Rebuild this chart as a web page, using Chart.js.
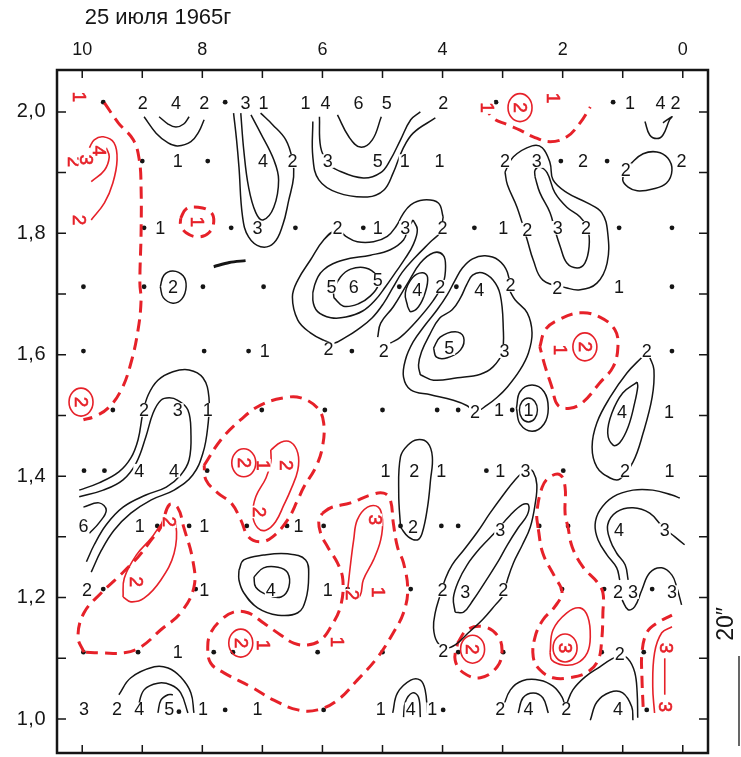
<!DOCTYPE html>
<html>
<head>
<meta charset="utf-8">
<script src="https://cdn.jsdelivr.net/npm/chart.js@4.4.1/dist/chart.umd.min.js"></script>
<style>
  html, body { margin: 0; padding: 0; background: #fff; }
  canvas { display: block; }
</style>
</head>
<body>
<canvas id="map" width="741" height="757"></canvas>
<script>
// axes
const xTicks = [10, 9, 8, 7, 6, 5, 4, 3, 2, 1, 0];
const xTickLabels = ['10', '', '8', '', '6', '', '4', '', '2', '', '0'];
const yTicks = [2.0, 1.9, 1.8, 1.7, 1.6, 1.5, 1.4, 1.3, 1.2, 1.1, 1.0];
const yTickLabels = ['2,0', '', '1,8', '', '1,6', '', '1,4', '', '1,2', '', '1,0'];
const titleText = '25 июля 1965г';
const scaleText = '20\u2033';

// observation points
const dots = [
  [9.65, 2.016], [7.62, 2.016], [3.11, 2.016], [1.16, 2.016],
  [9.00, 1.919], [7.91, 1.919], [2.03, 1.919], [1.26, 1.919],
  [8.97, 1.809], [7.52, 1.809], [6.45, 1.809], [5.32, 1.809], [3.47, 1.809], [1.06, 1.809], [0.18, 1.809],
  [9.98, 1.712], [8.97, 1.712], [7.99, 1.712], [6.98, 1.712], [4.72, 1.712], [3.77, 1.712], [0.18, 1.712],
  [9.98, 1.606], [7.97, 1.606], [7.23, 1.606], [5.51, 1.606], [0.18, 1.606],
  [9.49, 1.509], [7.01, 1.509], [5.96, 1.509], [5.00, 1.509], [4.09, 1.509], [3.74, 1.509], [2.84, 1.509],
  [9.97, 1.409], [9.63, 1.409], [7.92, 1.409], [3.27, 1.409], [1.99, 1.409],
  [8.75, 1.318], [8.22, 1.318], [7.26, 1.318], [6.59, 1.318], [5.98, 1.318], [4.70, 1.318], [4.02, 1.318], [3.74, 1.318], [2.39, 1.318], [1.91, 1.318],
  [9.65, 1.214], [8.11, 1.214], [5.58, 1.214], [4.53, 1.214], [2.01, 1.214], [1.31, 1.214], [0.51, 1.214],
  [9.98, 1.110], [9.07, 1.110], [7.81, 1.110], [7.49, 1.110], [6.08, 1.110], [5.00, 1.110], [3.74, 1.110], [2.99, 1.110], [1.35, 1.110], [0.65, 1.110],
  [7.62, 1.015], [5.98, 1.015], [3.99, 1.015], [0.60, 1.015], [8.39, 1.012]
];

// values written on the map (black)
const inkLabels = [
  ['2', 8.99, 2.015], ['4', 8.44, 2.015], ['2', 7.97, 2.015], ['3', 7.28, 2.015], ['1', 6.98, 2.015],
  ['1', 6.28, 2.015], ['4', 5.95, 2.015], ['6', 5.40, 2.015], ['5', 4.93, 2.015], ['2', 3.99, 2.015],
  ['1', 0.88, 2.015], ['4', 0.37, 2.015], ['2', 0.12, 2.015],
  ['1', 8.41, 1.919], ['4', 6.99, 1.919], ['2', 6.50, 1.919], ['3', 5.91, 1.919], ['5', 5.08, 1.919],
  ['1', 4.63, 1.919], ['1', 4.05, 1.919], ['2', 2.96, 1.919], ['3', 2.43, 1.919], ['2', 1.66, 1.919],
  ['2', 0.95, 1.904], ['2', 0.02, 1.919],
  ['1', 8.70, 1.809], ['3', 7.08, 1.809], ['2', 5.75, 1.809], ['1', 5.08, 1.809], ['3', 4.62, 1.809],
  ['2', 4.00, 1.809], ['1', 2.99, 1.809], ['2', 2.59, 1.806], ['3', 2.08, 1.809], ['2', 1.61, 1.809],
  ['2', 8.49, 1.712], ['5', 5.85, 1.712], ['6', 5.48, 1.712], ['5', 5.08, 1.723], ['4', 4.42, 1.707],
  ['2', 4.04, 1.712], ['4', 3.39, 1.707], ['2', 2.87, 1.715], ['2', 2.09, 1.710], ['1', 1.06, 1.712],
  ['1', 6.96, 1.606], ['2', 5.90, 1.610], ['2', 4.98, 1.606], ['5', 3.89, 1.611], ['3', 2.97, 1.606], ['2', 0.60, 1.606],
  ['2', 8.97, 1.509], ['3', 8.41, 1.509], ['1', 7.91, 1.509], ['2', 3.46, 1.506], ['1', 3.06, 1.509],
  ['1', 2.57, 1.509], ['4', 1.01, 1.506], ['1', 0.23, 1.506],
  ['4', 9.05, 1.409], ['4', 8.47, 1.409], ['1', 4.95, 1.409], ['2', 4.47, 1.409], ['1', 4.02, 1.409],
  ['1', 3.04, 1.409], ['3', 2.62, 1.409], ['2', 0.96, 1.409], ['1', 0.22, 1.409],
  ['6', 9.98, 1.318], ['1', 9.04, 1.318], ['1', 7.97, 1.318], ['1', 6.40, 1.318], ['2', 4.49, 1.316],
  ['3', 3.04, 1.311], ['4', 1.06, 1.311], ['3', 0.30, 1.311],
  ['2', 9.92, 1.212], ['1', 7.97, 1.212], ['4', 6.86, 1.212], ['1', 5.91, 1.212], ['2', 4.00, 1.212],
  ['3', 3.62, 1.209], ['2', 2.99, 1.212], ['2', 1.08, 1.209], ['3', 0.83, 1.209], ['3', 0.18, 1.209],
  ['1', 8.41, 1.110], ['2', 3.99, 1.112], ['2', 1.05, 1.107],
  ['3', 9.97, 1.016], ['2', 9.42, 1.016], ['4', 9.05, 1.016], ['5', 8.55, 1.016], ['1', 7.99, 1.016],
  ['1', 7.08, 1.016], ['1', 5.03, 1.016], ['4', 4.53, 1.016], ['1', 4.17, 1.016], ['2', 3.04, 1.016],
  ['4', 2.57, 1.016], ['2', 1.94, 1.016], ['4', 1.08, 1.016]
];
const inkRings = [[2.57, 1.509]];

// isoline labels (red)
const redLabels = [
  ['1', 10.05, 2.025], ['2', 10.13, 1.918], ['3', 9.94, 1.921], ['4', 9.72, 1.936], ['2', 10.05, 1.822],
  ['1', 8.09, 1.819], ['1', 3.26, 2.007], ['2', 2.71, 2.007], ['1', 2.16, 2.023],
  ['2', 10.02, 1.522], ['1', 2.04, 1.608], ['2', 1.63, 1.613],
  ['2', 7.31, 1.422], ['1', 6.98, 1.418], ['2', 6.61, 1.418], ['2', 7.06, 1.341],
  ['2', 8.55, 1.325], ['2', 9.10, 1.226],
  ['3', 5.12, 1.328], ['2', 5.50, 1.204], ['1', 5.07, 1.209],
  ['2', 7.36, 1.125], ['1', 6.99, 1.122], ['1', 5.75, 1.127],
  ['2', 3.50, 1.115], ['3', 1.96, 1.117], ['3', 0.27, 1.117], ['3', 0.30, 1.020]
];
const redRings = [[2.71, 2.007], [1.63, 1.613], [7.31, 1.422], [7.36, 1.125], [3.50, 1.115], [1.96, 1.117], [10.02, 1.522]];

// black isolines
const b01 = [[8.97,1.992],[8.77,1.965],[8.57,1.949],[8.41,1.944],[8.19,1.951],[8.06,1.967],[7.97,1.987]];
const b02 = [[8.72,1.992],[8.57,1.980],[8.44,1.975],[8.31,1.980],[8.22,1.992]];
const b03 = [[7.48,1.998],[7.43,1.954],[7.39,1.909],[7.33,1.827],[7.23,1.794],[7.03,1.778],[6.81,1.784],[6.66,1.814],[6.56,1.855],[6.48,1.893],[6.50,1.921],[6.61,1.954],[6.83,1.979],[7.03,1.998]];
const b04 = [[7.36,1.998],[7.31,1.937],[7.23,1.876],[7.11,1.834],[6.99,1.822],[6.81,1.843],[6.73,1.888],[6.81,1.921],[7.03,1.965],[7.19,1.995]];
const b05 = [[7.81,1.745],[7.55,1.752],[7.28,1.755]];
const b06 = [[8.70,1.712],[8.64,1.731],[8.49,1.738],[8.32,1.730],[8.27,1.712],[8.34,1.692],[8.49,1.685],[8.65,1.694],[8.70,1.712]];
const b07 = [[5.75,1.995],[5.56,1.959],[5.37,1.942],[5.17,1.954],[5.02,1.992]];
const b08 = [[6.05,1.992],[6.03,1.942],[5.91,1.916],[5.75,1.904],[5.32,1.891],[5.03,1.900],[4.87,1.921],[4.70,1.954],[4.53,1.987],[4.37,2.000]];
const b09 = [[6.16,1.984],[6.16,1.926],[6.06,1.888],[5.75,1.867],[5.25,1.860],[4.98,1.871],[4.82,1.900],[4.67,1.937],[4.49,1.965],[4.12,1.990]];
const b10 = [[2.96,1.901],[2.82,1.926],[2.51,1.944],[2.34,1.941],[2.21,1.916],[2.16,1.888],[1.93,1.867],[1.59,1.850],[1.35,1.834],[1.25,1.801],[1.26,1.751],[1.43,1.718],[1.71,1.707],[1.93,1.710],[2.33,1.723],[2.49,1.756],[2.59,1.789],[2.76,1.843],[2.92,1.880],[2.96,1.901]];
const b11 = [[2.46,1.893],[2.38,1.867],[2.21,1.834],[2.13,1.806],[2.04,1.778],[1.93,1.751],[1.76,1.743],[1.63,1.751],[1.56,1.778],[1.58,1.806],[1.71,1.827],[1.93,1.843],[2.13,1.867],[2.26,1.900],[2.38,1.909],[2.46,1.904],[2.46,1.893]];
const b12 = [[0.63,1.984],[0.55,1.962],[0.43,1.956],[0.33,1.962],[0.22,1.987],[0.18,1.992],[0.33,1.982]];
const b13 = [[0.95,1.904],[0.85,1.916],[0.66,1.931],[0.43,1.934],[0.25,1.924],[0.18,1.904],[0.27,1.883],[0.50,1.873],[0.76,1.870],[0.91,1.876],[1.00,1.888],[0.95,1.904]];
const b14 = [[3.99,1.827],[4.07,1.850],[4.32,1.855],[4.53,1.847],[4.67,1.830],[4.77,1.812],[4.92,1.795],[5.15,1.786],[5.42,1.786],[5.61,1.795],[5.75,1.806],[5.98,1.789],[6.20,1.756],[6.41,1.723],[6.50,1.695],[6.41,1.657],[6.20,1.636],[5.98,1.624],[5.81,1.619],[5.61,1.629],[5.42,1.641],[5.17,1.661],[4.98,1.685],[4.83,1.710],[4.67,1.736],[4.45,1.761],[4.20,1.786],[4.04,1.802],[3.99,1.827]];
const b15 = [[4.49,1.822],[4.42,1.806],[4.49,1.781],[4.62,1.759],[4.78,1.736],[4.95,1.712],[5.12,1.690],[5.33,1.672],[5.61,1.662],[5.86,1.661],[6.08,1.671],[6.16,1.690],[6.13,1.715],[5.98,1.740],[5.65,1.756],[5.20,1.764],[4.87,1.773],[4.65,1.789],[4.57,1.809],[4.49,1.822]];
const b16 = [[5.81,1.694],[5.65,1.680],[5.40,1.684],[5.20,1.697],[5.07,1.715],[5.10,1.731],[5.28,1.743],[5.53,1.741],[5.70,1.728],[5.81,1.707],[5.81,1.694]];
const b17 = [[5.08,1.629],[5.03,1.652],[4.82,1.679],[4.58,1.718],[4.37,1.751],[4.15,1.768],[3.99,1.764],[3.95,1.745],[3.99,1.718],[4.15,1.690],[4.42,1.657],[4.70,1.629],[4.87,1.619]];
const b18 = [[4.58,1.679],[4.62,1.702],[4.50,1.727],[4.34,1.735],[4.25,1.728],[4.29,1.702],[4.40,1.679],[4.53,1.671],[4.58,1.679]];
const b19 = [[4.15,1.611],[4.04,1.629],[3.79,1.638],[3.65,1.629],[3.70,1.608],[3.92,1.595],[4.10,1.596],[4.15,1.611]];
const b20 = [[4.37,1.567],[4.15,1.558],[3.75,1.562],[3.37,1.568],[3.16,1.580],[3.01,1.603],[2.99,1.646],[3.04,1.699],[3.16,1.723],[3.34,1.735],[3.50,1.731],[3.60,1.715],[3.70,1.694],[3.84,1.674],[4.05,1.660],[4.22,1.632],[4.35,1.605],[4.40,1.583],[4.37,1.567]];
const b21 = [[2.87,1.703],[2.92,1.736],[3.07,1.756],[3.29,1.763],[3.50,1.758],[3.67,1.743],[3.79,1.723],[3.92,1.699],[4.09,1.674],[4.29,1.649],[4.49,1.621],[4.62,1.591],[4.65,1.563],[4.53,1.542],[4.20,1.534],[3.82,1.525],[3.59,1.516],[3.46,1.506],[3.26,1.517],[3.09,1.530],[2.92,1.547],[2.71,1.575],[2.57,1.603],[2.51,1.636],[2.59,1.669],[2.79,1.690],[2.87,1.703]];
const b22 = [[2.77,1.512],[2.71,1.539],[2.51,1.550],[2.31,1.539],[2.24,1.512],[2.31,1.486],[2.51,1.474],[2.71,1.486],[2.77,1.512]];
const b23 = [[0.68,1.596],[0.93,1.570],[1.21,1.530],[1.43,1.488],[1.51,1.448],[1.43,1.415],[1.21,1.397],[1.05,1.395],[0.83,1.423],[0.66,1.471],[0.51,1.530],[0.48,1.575],[0.55,1.596]];
const b24 = [[0.76,1.555],[1.00,1.537],[1.18,1.504],[1.25,1.471],[1.16,1.451],[1.05,1.455],[0.91,1.481],[0.80,1.521],[0.75,1.547],[0.76,1.555]];
const b25 = [[10.05,1.377],[9.72,1.389],[9.39,1.407],[9.19,1.430],[9.07,1.460],[8.99,1.504],[8.90,1.534],[8.74,1.558],[8.49,1.572],[8.22,1.575],[7.99,1.562],[7.89,1.530],[7.91,1.481],[7.99,1.438],[8.16,1.402],[8.47,1.377],[8.85,1.361],[9.19,1.339],[9.47,1.311],[9.68,1.278],[9.85,1.242]];
const b26 = [[10.05,1.366],[9.65,1.377],[9.32,1.394],[9.10,1.422],[8.94,1.465],[8.82,1.504],[8.69,1.525],[8.55,1.529],[8.41,1.525],[8.24,1.509],[8.19,1.471],[8.22,1.427],[8.36,1.402],[8.60,1.382],[8.94,1.369],[9.32,1.349],[9.60,1.320],[9.80,1.287],[9.93,1.259]];
const b27 = [[9.98,1.349],[9.72,1.356],[9.60,1.344],[9.72,1.323],[9.88,1.306]];
const b28 = [[7.39,1.245],[7.31,1.262],[6.98,1.270],[6.58,1.272],[6.28,1.262],[6.23,1.234],[6.28,1.196],[6.41,1.175],[6.74,1.171],[7.08,1.183],[7.31,1.208],[7.39,1.229],[7.39,1.245]];
const b29 = [[7.14,1.234],[6.98,1.249],[6.74,1.250],[6.58,1.241],[6.56,1.217],[6.69,1.201],[6.91,1.204],[7.11,1.217],[7.14,1.234]];
const b30 = [[4.70,1.316],[4.73,1.372],[4.70,1.432],[4.58,1.451],[4.42,1.460],[4.25,1.455],[4.17,1.432],[4.20,1.394],[4.25,1.349],[4.34,1.306],[4.42,1.295],[4.57,1.300],[4.70,1.316]];
const b31 = [[2.59,1.414],[2.79,1.394],[2.99,1.369],[3.21,1.339],[3.42,1.308],[3.65,1.278],[3.84,1.254],[3.95,1.232],[4.04,1.204],[4.12,1.176],[4.15,1.150],[4.09,1.127],[3.95,1.117],[3.79,1.122],[3.57,1.142],[3.34,1.163],[3.12,1.188],[2.99,1.204],[2.92,1.229],[2.82,1.257],[2.67,1.287],[2.54,1.316],[2.46,1.353],[2.43,1.386],[2.49,1.407],[2.59,1.414]];
const b32 = [[3.79,1.176],[3.82,1.199],[3.74,1.226],[3.59,1.254],[3.37,1.282],[3.12,1.308],[2.87,1.336],[2.67,1.353],[2.57,1.353],[2.59,1.336],[2.74,1.315],[2.92,1.287],[3.09,1.257],[3.29,1.226],[3.49,1.196],[3.65,1.176],[3.79,1.176]];
const b33 = [[9.39,1.040],[9.19,1.068],[8.80,1.086],[8.57,1.084],[8.36,1.069],[8.19,1.043],[8.14,1.010]];
const b34 = [[9.07,1.020],[8.97,1.048],[8.74,1.059],[8.52,1.056],[8.36,1.043],[8.24,1.010]];
const b35 = [[8.74,1.010],[8.69,1.031],[8.57,1.040],[8.49,1.040]];
const b36 = [[4.83,1.010],[4.75,1.043],[4.53,1.064],[4.37,1.064],[4.29,1.048],[4.25,1.010]];
const b37 = [[4.65,1.003],[4.62,1.028],[4.50,1.043],[4.40,1.036],[4.37,1.003]];
const b38 = [[2.99,1.020],[2.87,1.048],[2.67,1.063],[2.38,1.064],[2.16,1.054],[2.01,1.036],[1.96,1.020]];
const b39 = [[2.74,1.010],[2.66,1.035],[2.49,1.043],[2.33,1.035],[2.24,1.010]];
const b40 = [[1.94,1.023],[1.83,1.048],[1.63,1.069],[1.38,1.086],[1.18,1.099],[1.05,1.104],[0.91,1.099],[0.80,1.077],[0.76,1.044],[0.75,1.002]];
const b41 = [[1.54,0.998],[1.43,1.028],[1.21,1.044],[1.00,1.043],[0.85,1.020],[0.83,0.998]];
const b42 = [[0.05,1.364],[0.18,1.369],[0.50,1.377],[0.83,1.377],[1.16,1.366],[1.38,1.344],[1.46,1.320],[1.41,1.295],[1.26,1.270],[1.10,1.249],[1.05,1.229]];
const b43 = [[-0.03,1.287],[0.13,1.300],[0.33,1.316],[0.55,1.339],[0.83,1.348],[1.10,1.341],[1.25,1.320],[1.21,1.295],[1.10,1.273],[0.96,1.254],[0.91,1.229]];
const b44 = [[1.01,1.196],[0.91,1.180],[0.80,1.185],[0.68,1.213],[0.55,1.241],[0.35,1.249],[0.18,1.237],[0.10,1.217],[0.02,1.188]];

// red isolines, solid and dashed
const r01 = [[9.63,2.015],[9.40,1.982],[9.15,1.954],[9.05,1.921],[9.02,1.876],[9.02,1.801],[9.04,1.718],[9.02,1.690],[9.07,1.641],[9.19,1.586],[9.35,1.542],[9.57,1.512],[9.80,1.498],[9.98,1.493]];
const r02 = [[8.36,1.825],[8.27,1.840],[8.07,1.843],[7.86,1.835],[7.81,1.819],[7.89,1.801],[8.07,1.794],[8.27,1.801],[8.36,1.814],[8.36,1.825]];
const r03 = [[3.31,2.012],[3.16,1.990],[2.92,1.979],[2.71,1.970],[2.49,1.959],[2.21,1.951],[1.93,1.959],[1.71,1.982],[1.54,2.008]];
const r04 = [[2.38,1.613],[2.29,1.641],[2.08,1.657],[1.71,1.669],[1.38,1.662],[1.13,1.641],[1.08,1.613],[1.16,1.580],[1.38,1.554],[1.66,1.522],[1.88,1.512],[2.08,1.517],[2.18,1.547],[2.29,1.580],[2.38,1.613]];
const r05 = [[7.97,1.418],[7.69,1.460],[7.36,1.493],[7.03,1.517],[6.64,1.529],[6.36,1.529],[6.08,1.512],[5.98,1.488],[6.00,1.448],[6.11,1.415],[6.31,1.382],[6.41,1.361],[6.58,1.328],[6.83,1.300],[7.03,1.292],[7.23,1.300],[7.36,1.328],[7.52,1.356],[7.74,1.372],[7.94,1.394],[7.97,1.418]];
const r06 = [[9.97,1.110],[10.07,1.135],[9.97,1.175],[9.68,1.208],[9.40,1.234],[9.07,1.267],[8.85,1.295],[8.69,1.316],[8.55,1.353],[8.41,1.348],[8.31,1.316],[8.16,1.262],[8.14,1.217],[8.36,1.175],[8.69,1.147],[9.02,1.119],[9.30,1.109],[9.68,1.109],[9.97,1.110]];
const r07 = [[6.00,1.339],[5.86,1.348],[5.53,1.356],[5.20,1.369],[4.98,1.372],[4.87,1.361],[4.82,1.323],[4.75,1.283],[4.65,1.257],[4.58,1.213],[4.65,1.175],[4.82,1.142],[5.08,1.102],[5.42,1.064],[5.75,1.031],[6.08,1.015],[6.41,1.015],[6.81,1.031],[7.19,1.053],[7.64,1.076],[7.86,1.092],[7.91,1.119],[7.86,1.142],[7.69,1.163],[7.48,1.176],[7.24,1.175],[6.98,1.158],[6.69,1.138],[6.48,1.125],[6.25,1.122],[6.03,1.130],[5.86,1.152],[5.70,1.185],[5.66,1.229],[5.75,1.257],[5.91,1.283],[6.03,1.306],[6.06,1.328],[6.00,1.339]];
const r08 = [[5.58,1.213],[5.53,1.257],[5.48,1.295],[5.42,1.328],[5.25,1.349],[5.07,1.349],[5.00,1.328],[5.03,1.295],[5.15,1.262],[5.32,1.229],[5.37,1.204],[5.48,1.196],[5.58,1.201],[5.58,1.213]];
const r09 = [[6.86,1.443],[6.69,1.456],[6.53,1.456],[6.41,1.438],[6.41,1.410],[6.53,1.377],[6.64,1.353],[6.78,1.325],[6.94,1.311],[7.08,1.315],[7.16,1.336],[7.11,1.366],[6.94,1.397],[6.86,1.423],[6.86,1.443]];
const r10 = [[9.32,1.201],[9.30,1.232],[9.10,1.270],[8.85,1.298],[8.69,1.320],[8.55,1.331],[8.44,1.320],[8.47,1.273],[8.69,1.229],[8.97,1.199],[9.19,1.193],[9.32,1.201]];
const r11 = [[3.75,1.125],[3.59,1.147],[3.32,1.152],[3.09,1.138],[3.01,1.114],[3.09,1.086],[3.37,1.068],[3.65,1.076],[3.79,1.097],[3.75,1.125]];
const r12 = [[2.41,1.315],[2.43,1.339],[2.34,1.382],[2.21,1.399],[2.04,1.402],[1.96,1.382],[1.96,1.339],[1.91,1.315],[1.84,1.283],[1.66,1.250],[1.43,1.226],[1.33,1.208],[1.33,1.175],[1.35,1.130],[1.41,1.097],[1.59,1.077],[1.88,1.068],[2.16,1.068],[2.38,1.081],[2.49,1.102],[2.46,1.135],[2.33,1.163],[2.13,1.185],[2.01,1.209],[2.13,1.234],[2.33,1.273],[2.41,1.315]];
const r13 = [[2.21,1.109],[2.16,1.147],[1.93,1.175],[1.71,1.183],[1.58,1.168],[1.54,1.135],[1.59,1.109],[1.76,1.092],[1.99,1.089],[2.18,1.097],[2.21,1.109]];
const r14 = [[0.66,1.020],[0.68,1.069],[0.68,1.109],[0.60,1.142],[0.43,1.158],[0.18,1.171]];
const r15 = [[0.47,1.010],[0.50,1.053],[0.47,1.109],[0.35,1.142],[0.18,1.152]];
const r16 = [[0.30,1.100],[0.30,1.040]];
const r17 = [[9.85,1.822],[9.63,1.850],[9.49,1.883],[9.42,1.921],[9.47,1.949],[9.65,1.959],[9.80,1.954],[9.88,1.941]];
const r18 = [[9.85,1.885],[9.63,1.904],[9.55,1.926],[9.60,1.941]];

const inkLines = [b01, b02, b03, b04, b06, b07, b08, b09, b10, b11, b12, b13, b14, b15, b16, b17, b18, b19, b20, b21, b22,
  b23, b24, b25, b26, b27, b28, b29, b30, b31, b32, b33, b34, b35, b36, b37, b38, b39, b40, b41, b42, b43, b44];
const inkHeavy = [b05];
const redSolid = [r08, r09, r10, r13, r15, r16, r17, r18];
const redDashed = [r01, r02, r03, r04, r05, r06, r07, r11, r12, r14];

const INK = '#151515';
const RED = '#e62129';
const FONT = '"Liberation Sans", Arial, sans-serif';

function toPts(arr) {
  return arr.map(p => ({ x: p[0], y: p[1] }));
}

const datasets = [];
inkLines.forEach(l => datasets.push({
  data: toPts(l), showLine: true, borderColor: INK, borderWidth: 1.5,
  pointRadius: 0, tension: 0.4, fill: false
}));
inkHeavy.forEach(l => datasets.push({
  data: toPts(l), showLine: true, borderColor: INK, borderWidth: 3,
  pointRadius: 0, tension: 0.3, fill: false
}));
redSolid.forEach(l => datasets.push({
  data: toPts(l), showLine: true, borderColor: RED, borderWidth: 1.6,
  pointRadius: 0, tension: 0.4, fill: false
}));
redDashed.forEach(l => datasets.push({
  data: toPts(l), showLine: true, borderColor: RED, borderWidth: 3, borderDash: [12, 7],
  pointRadius: 0, tension: 0.4, fill: false
}));
datasets.push({
  data: toPts(dots), showLine: false, pointRadius: 2.4, pointBackgroundColor: INK,
  pointBorderWidth: 0
});

// writes a label with a white patch under it, like the gaps in hand drawn isolines
function putLabel(ctx, text, px, py, color, rot, size, stroke) {
  ctx.save();
  ctx.translate(px, py);
  if (rot) ctx.rotate(rot);
  ctx.font = size + 'px ' + FONT;
  const w = ctx.measureText(text).width;
  ctx.fillStyle = '#fff';
  ctx.fillRect(-w / 2 - 1, -size * 0.38, w + 2, size * 0.76);
  ctx.fillStyle = color;
  ctx.textAlign = 'center';
  ctx.textBaseline = 'middle';
  ctx.fillText(text, 0, 1);
  if (stroke) {
    ctx.strokeStyle = color;
    ctx.lineWidth = stroke;
    ctx.strokeText(text, 0, 1);
  }
  ctx.restore();
}

const decor = {
  id: 'decor',
  afterDatasetsDraw(chart) {
    const { ctx, chartArea: a, scales: { x, y } } = chart;
    ctx.save();

    inkLabels.forEach(([t, vx, vy]) => putLabel(ctx, t, x.getPixelForValue(vx), y.getPixelForValue(vy), INK, 0, 18, 0));
    redLabels.forEach(([t, vx, vy]) => putLabel(ctx, t, x.getPixelForValue(vx), y.getPixelForValue(vy), RED, Math.PI / 2, 19, 0.6));

    ctx.lineWidth = 1.4;
    ctx.strokeStyle = INK;
    inkRings.forEach(([vx, vy]) => {
      ctx.beginPath();
      ctx.ellipse(x.getPixelForValue(vx), y.getPixelForValue(vy), 9, 12, 0, 0, Math.PI * 2);
      ctx.stroke();
    });
    ctx.strokeStyle = RED;
    ctx.lineWidth = 1.6;
    redRings.forEach(([vx, vy]) => {
      ctx.beginPath();
      ctx.ellipse(x.getPixelForValue(vx), y.getPixelForValue(vy), 12, 14, 0, 0, Math.PI * 2);
      ctx.stroke();
    });

    // frame and inward ticks
    ctx.strokeStyle = INK;
    ctx.lineWidth = 2.5;
    ctx.strokeRect(a.left, a.top, a.right - a.left, a.bottom - a.top);
    ctx.lineWidth = 1.5;
    ctx.beginPath();
    xTicks.forEach(v => {
      const px = x.getPixelForValue(v);
      ctx.moveTo(px, a.top); ctx.lineTo(px, a.top + 8);
      ctx.moveTo(px, a.bottom); ctx.lineTo(px, a.bottom - 8);
    });
    yTicks.forEach(v => {
      const py = y.getPixelForValue(v);
      ctx.moveTo(a.left, py); ctx.lineTo(a.left + 9, py);
      ctx.moveTo(a.right, py); ctx.lineTo(a.right - 9, py);
    });
    ctx.stroke();

    ctx.fillStyle = INK;
    ctx.font = '18px ' + FONT;
    ctx.textAlign = 'center';
    ctx.textBaseline = 'middle';
    xTicks.forEach((v, i) => {
      if (xTickLabels[i]) ctx.fillText(xTickLabels[i], x.getPixelForValue(v), a.top - 20);
    });
    ctx.textAlign = 'right';
    ctx.font = '20px ' + FONT;
    ctx.letterSpacing = '0.5px';
    yTicks.forEach((v, i) => {
      if (yTickLabels[i]) ctx.fillText(yTickLabels[i], a.left - 11, y.getPixelForValue(v));
    });
    ctx.letterSpacing = '0px';

    ctx.textAlign = 'center';
    ctx.font = '22px ' + FONT;
    ctx.fillText(titleText, 158, 18);

    // scale bar at the right
    ctx.save();
    ctx.translate(a.right + 19, 624);
    ctx.rotate(-Math.PI / 2);
    ctx.font = '23px ' + FONT;
    ctx.fillText(scaleText, 0, 0);
    ctx.restore();
    ctx.lineWidth = 1.3;
    ctx.beginPath();
    ctx.moveTo(a.right + 31, 656);
    ctx.lineTo(a.right + 31, 746);
    ctx.stroke();

    ctx.restore();
  }
};

new Chart(document.getElementById('map'), {
  type: 'scatter',
  data: { datasets },
  options: {
    responsive: false,
    animation: false,
    devicePixelRatio: 1,
    layout: { padding: { left: 57, right: 33, top: 70, bottom: 4 } },
    plugins: { legend: { display: false }, tooltip: { enabled: false } },
    scales: {
      x: { type: 'linear', reverse: true, min: -0.42, max: 10.42, display: false },
      y: { type: 'linear', min: 0.944, max: 2.069, display: false }
    }
  },
  plugins: [decor]
});
</script>
</body>
</html>
